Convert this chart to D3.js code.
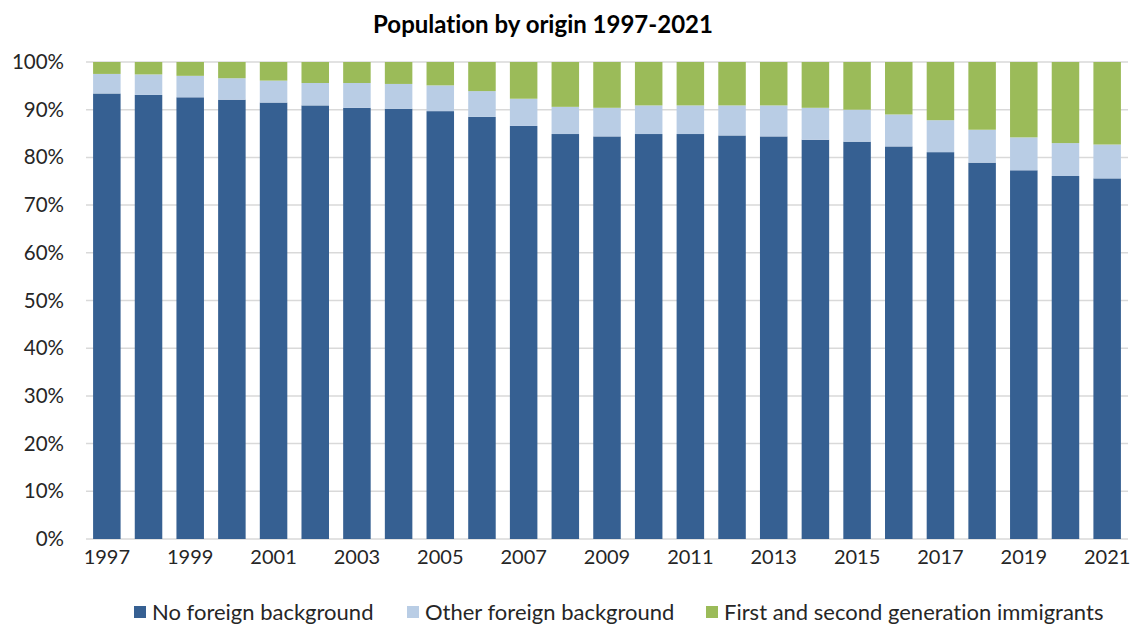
<!DOCTYPE html>
<html>
<head>
<meta charset="utf-8">
<script src="https://cdn.jsdelivr.net/npm/d3@7"></script>
<style>
  html, body { margin: 0; padding: 0; background: #fff; }
  svg { display: block; }
  text { font-family: Lato, "Open Sans", sans-serif; fill: #262626; font-variant-ligatures: none; }
</style>
</head>
<body>
<svg id="chart" width="1135" height="624"></svg>
<script>
// Years on the x axis
const years = [1997,1998,1999,2000,2001,2002,2003,2004,2005,2006,2007,2008,2009,
               2010,2011,2012,2013,2014,2015,2016,2017,2018,2019,2020,2021];

// Share of population (%) per origin group
const noForeign = [93.4,93.1,92.6,92.1,91.5,90.9,90.4,90.2,89.7,88.5,86.6,84.9,84.4,
                   84.9,84.9,84.6,84.4,83.7,83.3,82.3,81.1,78.9,77.3,76.1,75.6];
const otherForeign = [4.1,4.3,4.5,4.5,4.6,4.7,5.2,5.2,5.4,5.4,5.7,5.7,6.0,
                      6.0,6.0,6.3,6.5,6.7,6.7,6.7,6.7,6.9,6.9,6.9,7.1];
const immigrants = [2.5,2.6,2.9,3.4,3.9,4.4,4.4,4.6,4.9,6.1,7.7,9.4,9.6,
                    9.1,9.1,9.1,9.1,9.6,10.0,11.0,12.2,14.2,15.8,17.0,17.3];

const seriesNames = ["No foreign background", "Other foreign background", "First and second generation immigrants"];
const seriesColors = ["#366092", "#B9CDE5", "#9BBB59"];
const yTicks = [0,10,20,30,40,50,60,70,80,90,100];

const rows = years.map((yr, i) => ({
  year: yr,
  [seriesNames[0]]: noForeign[i],
  [seriesNames[1]]: otherForeign[i],
  [seriesNames[2]]: immigrants[i]
}));

const svg = d3.select("#chart");
const plotLeft = 86, plotRight = 1128, plotTop = 62, plotBottom = 539;

const x = d3.scaleBand().domain(years).range([plotLeft, plotRight]).paddingInner(0.34).paddingOuter(0.17);
const y = d3.scaleLinear().domain([0, 100]).range([plotBottom, plotTop]);

// Title
svg.append("text")
  .attr("x", 543).attr("y", 33)
  .attr("text-anchor", "middle")
  .style("font-size", "24px").style("font-weight", "bold")
  .style("fill", "#000")
  .text("Population by origin 1997-2021");

// Gridlines
svg.append("g").selectAll("line").data(yTicks).join("line")
  .attr("x1", plotLeft).attr("x2", plotRight)
  .attr("y1", d => y(d)).attr("y2", d => y(d))
  .attr("stroke", "#d9d9d9").attr("stroke-width", 1.5);

// Stacked bars
const stack = d3.stack().keys(seriesNames);
const layers = stack(rows);
svg.append("g").selectAll("g").data(layers).join("g")
  .attr("fill", (d, i) => seriesColors[i])
  .selectAll("rect").data(d => d).join("rect")
  .attr("x", d => x(d.data.year))
  .attr("width", x.bandwidth())
  .attr("y", d => y(d[1]))
  .attr("height", d => y(d[0]) - y(d[1]));

// Y axis labels
const yAxis = d3.axisLeft(y).tickValues(yTicks).tickFormat(d => d + "%").tickSize(0).tickPadding(0);
const gy = svg.append("g").attr("transform", "translate(64,0)").call(yAxis);
gy.select(".domain").remove();
gy.selectAll("text").style("font-size", "20.5px").style("font-family", "Lato, sans-serif").attr("fill", "#262626");

// X axis labels (every other year)
const xAxis = d3.axisBottom(x).tickValues(years.filter((d, i) => i % 2 === 0)).tickSize(0).tickPadding(0);
const gx = svg.append("g").attr("transform", `translate(0,${plotBottom + 11})`).call(xAxis);
gx.select(".domain").remove();
gx.selectAll("text").style("font-size", "20px").style("font-family", "Lato, sans-serif").attr("fill", "#262626");

// Legend
const legendX = [134, 407, 706];
const legend = svg.append("g").selectAll("g").data(seriesNames).join("g")
  .attr("transform", (d, i) => `translate(${legendX[i]},606)`);
legend.append("rect").attr("width", 12).attr("height", 12).attr("fill", (d, i) => seriesColors[i]);
legend.append("text").attr("x", 18).attr("y", 14)
  .style("font-size", "22px").text(d => d);
</script>
</body>
</html>
